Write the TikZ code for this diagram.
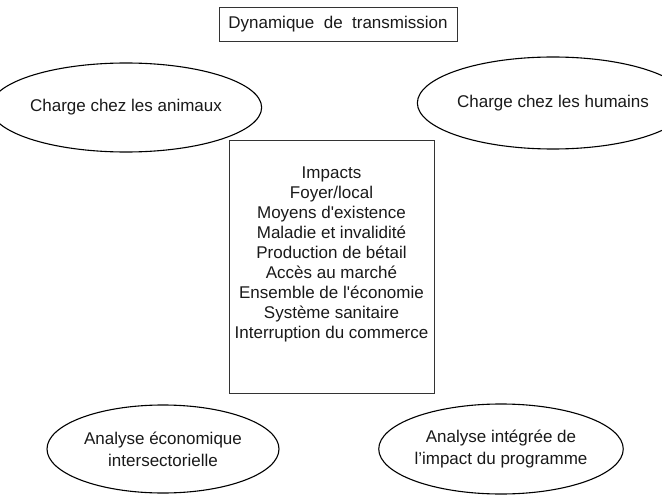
\documentclass[tikz,border=0pt]{standalone}
\usepackage{fontspec}
\setmainfont{Liberation Sans}
\usetikzlibrary{shapes.geometric,positioning}

\begin{document}
\begin{tikzpicture}[x=1pt, y=1pt,
        every node/.style={font=\fontsize{17}{20}\selectfont, text=black!90},
        oval/.style={draw, ellipse, line width=1.1pt, inner sep=0pt, align=center, font=\fontsize{17}{22}\selectfont},
        box/.style={draw=black!80, rectangle, line width=0.8pt}]

        \useasboundingbox (0,0) rectangle (662,-495);

        % Title box
        \node (dynamique) at (338,-24) [box, minimum width=238pt, minimum height=34pt] {Dynamique~~de~~transmission};

        % Burden ellipses
        \node (chargeanimaux) at (126,-107.5) [oval, minimum width=228pt, minimum height=89pt] {Charge chez les animaux};
        \node (chargehumains) at (553,-103) [oval, minimum width=220pt, minimum height=92pt] {Charge chez les humains};

        % Impacts box
        \node (impactbox) at (331.5,-266.5) [box, minimum width=205pt, minimum height=253pt] {};
        \node (impactlist) at (impactbox.center) [yshift=12pt, align=center] {Impacts\\Foyer/local\\Moyens d\textquotesingle existence\\Maladie et invalidité\\Production de bétail\\Accès au marché\\Ensemble de l\textquotesingle économie\\Système sanitaire\\Interruption du commerce};

        % Analysis ellipses
        \node (analyseeco) at (163,-449) [oval, minimum width=232pt, minimum height=88pt] {Analyse économique\\intersectorielle};
        \node (analyseprog) at (501,-449) [oval, minimum width=232pt, minimum height=90pt] {Analyse intégrée de\\l’impact du programme};

\end{tikzpicture}
\end{document}
